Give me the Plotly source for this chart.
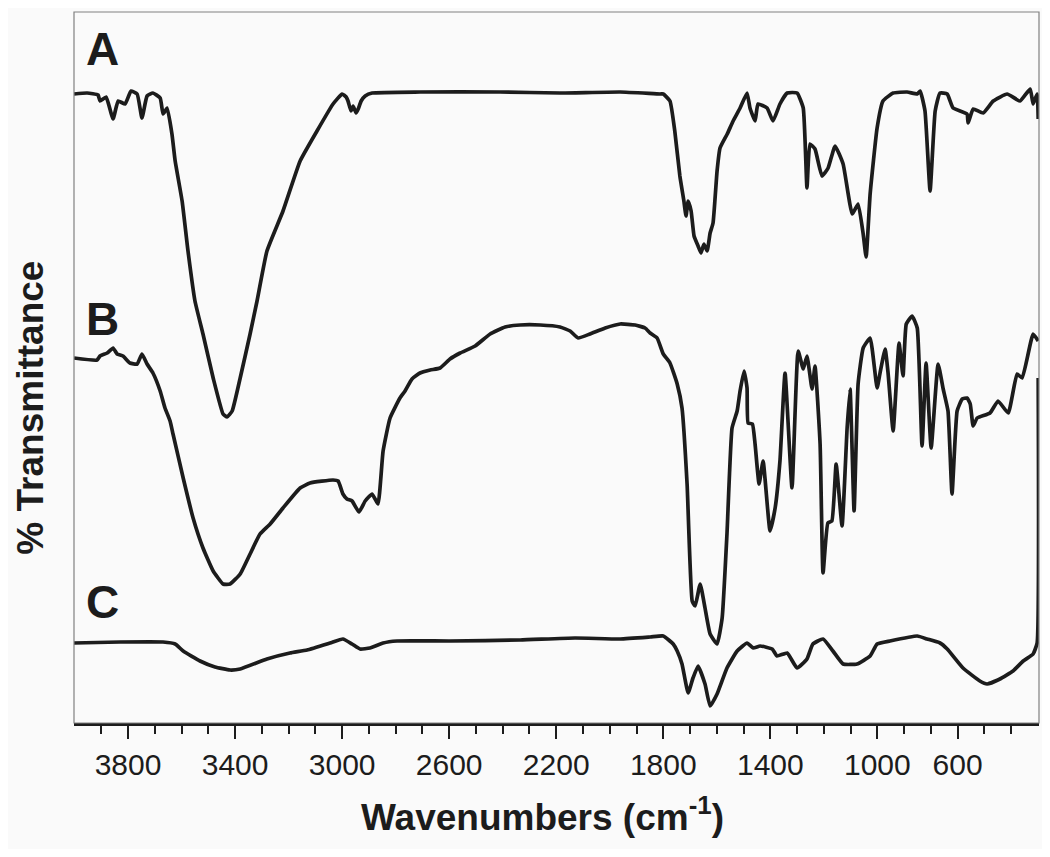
import plotly.graph_objects as go

# Wavenumbers (cm^-1) and transmittance (arbitrary units, offset per spectrum)
a_wn = [4002, 3953, 3912, 3905, 3882, 3856, 3837, 3811, 3789, 3766, 3748, 3729, 3707, 3680, 3669, 3654,
        3636, 3624, 3598, 3576, 3550, 3520, 3482, 3445, 3430, 3411, 3381, 3344, 3318, 3281, 3221, 3157,
        3094, 3034, 3000, 2985, 2978, 2967, 2959, 2948, 2940, 2929, 2914, 2888, 2709, 2410, 2186, 1961,
        1812, 1800, 1775, 1757, 1738, 1723, 1715, 1707, 1696, 1685, 1670, 1659, 1648, 1636, 1625, 1614,
        1599, 1588, 1561, 1539, 1513, 1487, 1476, 1457, 1446, 1412, 1390, 1364, 1337, 1300, 1277, 1263,
        1252, 1233, 1207, 1184, 1158, 1128, 1094, 1072, 1053, 1042, 1027, 1001, 979, 941, 889, 851, 840,
        822, 803, 784, 766, 739, 717, 665, 661, 642, 605, 567, 515, 467, 429, 418, 403, 399]
a_t = [629, 630, 628, 622, 626, 604, 622, 619, 632, 629, 605, 627, 630, 625, 609, 615,
       589, 562, 522, 472, 422, 389, 345, 309, 306, 312, 345, 389, 422, 472, 512, 562,
       592, 619, 629, 626, 622, 612, 617, 610, 614, 622, 627, 630, 631, 631, 630, 631,
       629, 629, 622, 592, 547, 522, 507, 522, 512, 487, 477, 470, 479, 472, 490, 500,
       552, 575, 589, 602, 615, 630, 615, 602, 619, 615, 602, 619, 630, 630, 615, 535,
       579, 574, 547, 555, 577, 559, 509, 519, 489, 466, 529, 595, 622, 630, 631, 629, 632,
       612, 532, 612, 630, 629, 615, 609, 600, 614, 610, 622, 629, 622, 634, 619, 629, 604]

b_wn = [4002, 3916, 3905, 3878, 3856, 3841, 3819, 3793, 3766, 3748, 3729, 3707, 3680, 3662, 3643, 3632,
        3594, 3557, 3520, 3482, 3445, 3419, 3381, 3344, 3307, 3269, 3221, 3157, 3120, 3034, 3015, 2997,
        2982, 2963, 2937, 2914, 2888, 2866, 2847, 2821, 2784, 2765, 2739, 2709, 2671, 2634, 2597, 2559,
        2503, 2447, 2391, 2335, 2260, 2186, 2148, 2118, 2074, 2017, 1961, 1905, 1868, 1849, 1823, 1800,
        1775, 1748, 1730, 1711, 1692, 1681, 1662, 1644, 1625, 1599, 1580, 1562, 1543, 1524, 1513, 1498,
        1487, 1483, 1467, 1457, 1442, 1427, 1401, 1382, 1364, 1345, 1319, 1296, 1277, 1263, 1244, 1233,
        1214, 1203, 1185, 1170, 1154, 1132, 1113, 1102, 1087, 1072, 1053, 1027, 1001, 990, 971, 960,
        941, 919, 904, 892, 870, 851, 833, 818, 799, 773, 754, 736, 721, 702, 683, 665, 653, 642, 627,
        579, 549, 511, 478, 459, 418, 399]
b_t = [365, 363, 367, 370, 375, 369, 367, 360, 359, 369, 359, 350, 332, 315, 302, 289,
       245, 205, 175, 152, 139, 139, 149, 169, 189, 199, 215, 235, 240, 243, 242, 229,
       224, 222, 211, 222, 229, 219, 272, 305, 325, 332, 344, 350, 353, 355, 364, 370,
       377, 389, 396, 398, 398, 396, 392, 385, 389, 395, 399, 398, 395, 390, 385, 369,
       360, 339, 315, 239, 122, 117, 139, 115, 89, 79, 105, 189, 295, 312, 332, 352,
       335, 300, 299, 279, 239, 262, 192, 215, 262, 350, 235, 372, 354, 367, 334, 357,
       279, 150, 200, 202, 259, 197, 295, 334, 212, 339, 375, 385, 335, 350, 374, 350,
       292, 380, 347, 399, 407, 395, 277, 360, 275, 359, 334, 312, 229, 312, 324, 325, 319, 297, 305,
       310, 322, 310, 349, 345, 389, 382]

c_wn = [4002, 3830, 3669, 3624, 3594, 3531, 3475, 3419, 3381, 3281, 3195, 3131, 3045, 2997, 2963, 2933,
        2896, 2847, 2795, 2597, 2335, 2130, 1961, 1849, 1800, 1763, 1748, 1730, 1707, 1689, 1670, 1644,
        1625, 1599, 1562, 1524, 1487, 1464, 1438, 1393, 1375, 1337, 1300, 1263, 1241, 1203, 1166, 1128,
        1076, 1027, 1001, 953, 851, 814, 766, 739, 680, 617, 590, 542, 493, 455, 418, 403, 399]
c_t = [80, 81, 81, 79, 72, 62, 56, 53, 54, 64, 70, 73, 80, 84, 79, 74,
       75, 80, 82, 82, 83, 85, 84, 86, 87, 79, 72, 59, 30, 45, 57, 39,
       17, 29, 55, 72, 80, 75, 77, 74, 67, 70, 55, 64, 79, 84, 72, 59,
       59, 67, 79, 82, 87, 84, 80, 74, 55, 42, 39, 44, 52, 62, 69, 80, 345]

major_ticks = [3800, 3400, 3000, 2600, 2200, 1800, 1400, 1000, 700]
major_labels = ["3800", "3400", "3000", "2600", "2200", "1800", "1400", "1000", "600"]
minor_ticks = [3900, 3700, 3600, 3500, 3300, 3200, 3100, 2900, 2800, 2700, 2500, 2400, 2300,
               2100, 2000, 1900, 1700, 1600, 1500, 1300, 1200, 1100, 900, 800, 600, 500]

spectra = [("A", a_wn, a_t, 674), ("B", b_wn, b_t, 404), ("C", c_wn, c_t, 121)]

FONT = "Liberation Sans, Arial, Helvetica, sans-serif"
INK = "#1c1c1c"

fig = go.Figure()
for name, wn, t, _ in spectra:
    fig.add_trace(go.Scatter(x=wn, y=t, mode="lines", name=name,
                             line=dict(color=INK, width=3.7, shape="spline", smoothing=0.4),
                             showlegend=False))

for name, _, _, ly in spectra:
    fig.add_annotation(x=3897, y=ly, text=f"<b>{name}</b>", showarrow=False,
                       font=dict(family=FONT, size=46, color=INK), xanchor="center", yanchor="middle")

# axis titles
fig.add_annotation(xref="paper", yref="paper", x=-0.046, y=0.443, text="<b>% Transmittance</b>",
                   textangle=-90, showarrow=False, xanchor="center", yanchor="middle",
                   font=dict(family=FONT, size=37, color=INK))
fig.add_annotation(xref="paper", yref="paper", x=0.485, y=-0.129,
                   text="<b>Wavenumbers (cm<sup>-1</sup>)</b>",
                   showarrow=False, xanchor="center", yanchor="middle",
                   font=dict(family=FONT, size=37, color=INK))

fig.add_shape(type="rect", xref="paper", yref="paper", x0=0, x1=1, y0=0, y1=1,
              line=dict(color="#808080", width=1.2), layer="above")

# the page body has an 8px margin, so the figure is sized to fit the window
fig.update_layout(
    width=1034, height=841,
    margin=dict(l=66, r=3, t=4, b=126),
    paper_bgcolor="#fafafa", plot_bgcolor="#fafafa",
    font=dict(family=FONT, color=INK),
    xaxis=dict(range=[4002, 396], showgrid=False, zeroline=False,
               showline=True, linecolor=INK, linewidth=3,
               ticks="outside", tickmode="array", tickvals=major_ticks, ticktext=major_labels,
               ticklen=13, tickwidth=2, tickcolor=INK,
               tickfont=dict(family=FONT, size=30, color=INK),
               minor=dict(ticks="outside", tickmode="array", tickvals=minor_ticks,
                          ticklen=8, tickwidth=2, tickcolor=INK)),
    yaxis=dict(range=[0, 711], showgrid=False, zeroline=False, showticklabels=False,
               ticks="", showline=False),
)

fig.write_html("out.html")
